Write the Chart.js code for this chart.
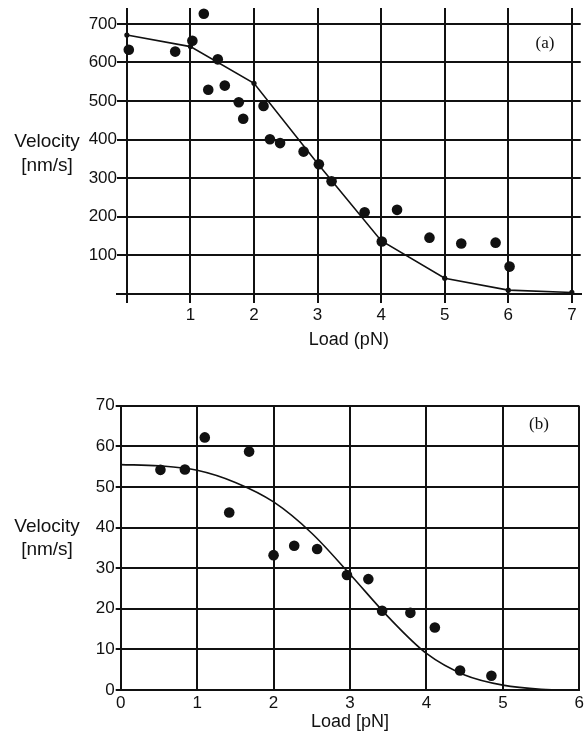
<!DOCTYPE html>
<html>
<head>
<meta charset="utf-8">
<script src="https://cdn.jsdelivr.net/npm/chart.js@4.4.1/dist/chart.umd.min.js"></script>
<style>
  html, body { margin: 0; padding: 0; background: #fff; }
  body { width: 586px; height: 742px; position: relative; overflow: hidden; }
  .wrap { position: absolute; left: 0; }
  canvas { display: block; }
</style>
</head>
<body>
<div class="wrap" style="top:0px"><canvas id="chartA" width="586" height="352"></canvas></div>
<div class="wrap" style="top:352px"><canvas id="chartB" width="586" height="390"></canvas></div>
<script>
// ---------- Panel (a) data ----------
const aPointsX = [0.03, 0.76, 1.03, 1.21, 1.28, 1.43, 1.54, 1.76, 1.83, 2.15, 2.25, 2.41, 2.78, 3.02, 3.22, 3.74, 4.01, 4.25, 4.76, 5.26, 5.80, 6.02];
const aPointsY = [633, 628, 656, 726, 529, 608, 540, 497, 454, 487, 401, 391, 369, 336, 292, 212, 136, 218, 146, 131, 133, 71];
const aFitX = [0, 1, 2, 3, 4, 5, 6, 7];
const aFitY = [671, 641, 546, 338, 138, 41, 10, 4];
const aXTicks = [0, 1, 2, 3, 4, 5, 6, 7];
const aXTickLabels = ['', '1', '2', '3', '4', '5', '6', '7'];
const aYTicks = [0, 100, 200, 300, 400, 500, 600, 700];
const aYTickLabels = ['', '100', '200', '300', '400', '500', '600', '700'];

// ---------- Panel (b) data ----------
const bPointsX = [0.52, 0.84, 1.10, 1.42, 1.68, 2.00, 2.27, 2.57, 2.96, 3.24, 3.42, 3.79, 4.11, 4.44, 4.85];
const bPointsY = [54.2, 54.3, 62.2, 43.7, 58.7, 33.2, 35.5, 34.7, 28.3, 27.3, 19.5, 19.0, 15.4, 4.8, 3.5];
const bFitX = [0, 0.5, 1, 1.5, 2, 2.5, 3, 3.5, 4, 4.5, 5, 5.5, 6];
const bFitY = [55.5, 55.2, 54.1, 51.1, 46.3, 38.6, 28.5, 18.0, 9.0, 3.7, 1.2, 0.2, 0];
const bXTicks = [0, 1, 2, 3, 4, 5, 6];
const bXTickLabels = ['0', '1', '2', '3', '4', '5', '6'];
const bYTicks = [0, 10, 20, 30, 40, 50, 60, 70];
const bYTickLabels = ['0', '10', '20', '30', '40', '50', '60', '70'];

const INK = '#111111';
const SANS = '"Liberation Sans", Arial, Helvetica, sans-serif';
const SERIF = '"Liberation Serif", "Times New Roman", serif';

function zip(xs, ys) { return xs.map((x, i) => ({ x: x, y: ys[i] })); }

const extraText = {
  id: 'extraText',
  afterDraw(chart, args, opts) {
    const ctx = chart.ctx;
    (opts.items || []).forEach(it => {
      ctx.save();
      ctx.font = it.font;
      ctx.fillStyle = INK;
      ctx.textAlign = 'center';
      ctx.textBaseline = 'middle';
      ctx.fillText(it.text, it.x, it.y);
      ctx.restore();
    });
  }
};

function fixSize(w, h) {
  return function (scale) {
    if (w !== null) scale.width = w;
    if (h !== null) scale.height = h;
    scale.paddingLeft = 0; scale.paddingRight = 0;
    scale.paddingTop = 0; scale.paddingBottom = 0;
  };
}
function setTicks(arr) {
  return function (scale) { scale.ticks = arr.map(v => ({ value: v })); };
}

// ---------- Chart (a) ----------
new Chart(document.getElementById('chartA'), {
  type: 'scatter',
  data: {
    datasets: [
      {
        data: zip(aFitX, aFitY),
        showLine: true,
        borderColor: INK,
        borderWidth: 1.6,
        tension: 0,
        pointRadius: 2.6,
        pointBackgroundColor: INK,
        pointBorderWidth: 0,
        order: 2
      },
      {
        data: zip(aPointsX, aPointsY),
        showLine: false,
        pointRadius: 5.3,
        pointBackgroundColor: INK,
        pointBorderWidth: 0,
        order: 1
      }
    ]
  },
  options: {
    responsive: false,
    devicePixelRatio: 1,
    animation: false,
    events: [],
    layout: { padding: { top: 8, left: 0, right: 0, bottom: 0 } },
    plugins: {
      legend: { display: false },
      tooltip: { enabled: false },
      extraText: {
        items: [
          { text: 'Velocity', x: 47, y: 142, font: '19px ' + SANS },
          { text: '[nm/s]', x: 47, y: 166, font: '19px ' + SANS },
          { text: '(a)', x: 545, y: 44, font: '17px ' + SERIF }
        ]
      }
    },
    scales: {
      x: {
        type: 'linear',
        min: -0.1555,
        max: 7.139,
        afterBuildTicks: setTicks(aXTicks),
        afterFit: fixSize(null, 58),
        ticks: {
          autoSkip: false,
          maxRotation: 0,
          padding: 2,
          color: INK,
          font: { family: SANS, size: 17 },
          callback: (v, i) => aXTickLabels[i]
        },
        grid: { color: INK, lineWidth: 2, drawTicks: true, tickLength: 9, tickColor: INK, tickWidth: 2 },
        border: { display: true, color: INK, width: 2 },
        title: {
          display: true,
          text: 'Load (pN)',
          color: INK,
          font: { family: SANS, size: 18 },
          padding: { top: 0, bottom: 1 }
        }
      },
      y: {
        type: 'linear',
        min: 0,
        max: 741,
        afterBuildTicks: setTicks(aYTicks),
        afterFit: fixSize(117, null),
        ticks: {
          autoSkip: false,
          padding: 0,
          color: INK,
          font: { family: SANS, size: 17 },
          callback: (v, i) => aYTickLabels[i]
        },
        grid: { color: INK, lineWidth: 2, drawTicks: false },
        border: { display: false }
      }
    }
  },
  plugins: [extraText]
});

// ---------- Chart (b) ----------
new Chart(document.getElementById('chartB'), {
  type: 'scatter',
  data: {
    datasets: [
      {
        data: zip(bFitX, bFitY),
        showLine: true,
        borderColor: INK,
        borderWidth: 1.6,
        cubicInterpolationMode: 'monotone',
        pointRadius: 0,
        order: 2
      },
      {
        data: zip(bPointsX, bPointsY),
        showLine: false,
        pointRadius: 5.3,
        pointBackgroundColor: INK,
        pointBorderWidth: 0,
        order: 1
      }
    ]
  },
  options: {
    responsive: false,
    devicePixelRatio: 1,
    animation: false,
    events: [],
    layout: { padding: { top: 53.7, left: 0, right: 6.7, bottom: 0 } },
    plugins: {
      legend: { display: false },
      tooltip: { enabled: false },
      extraText: {
        items: [
          { text: 'Velocity', x: 47, y: 527 - 352, font: '19px ' + SANS },
          { text: '[nm/s]', x: 47, y: 550 - 352, font: '19px ' + SANS },
          { text: '(b)', x: 539, y: 425 - 352, font: '17px ' + SERIF }
        ]
      }
    },
    scales: {
      x: {
        type: 'linear',
        min: 0,
        max: 6,
        afterBuildTicks: setTicks(bXTicks),
        afterFit: fixSize(null, 52),
        ticks: {
          autoSkip: false,
          maxRotation: 0,
          padding: 3,
          color: INK,
          font: { family: SANS, size: 17 },
          callback: (v, i) => bXTickLabels[i]
        },
        grid: { color: INK, lineWidth: 2, drawTicks: false },
        border: { display: true, color: INK, width: 2 },
        title: {
          display: true,
          text: 'Load [pN]',
          color: INK,
          font: { family: SANS, size: 18 },
          padding: { top: 0, bottom: 9 }
        }
      },
      y: {
        type: 'linear',
        min: 0,
        max: 70,
        afterBuildTicks: setTicks(bYTicks),
        afterFit: fixSize(120.7, null),
        ticks: {
          autoSkip: false,
          padding: 1,
          color: INK,
          font: { family: SANS, size: 17 },
          callback: (v, i) => bYTickLabels[i]
        },
        grid: { color: INK, lineWidth: 2, drawTicks: true, tickLength: 5, tickColor: INK, tickWidth: 2 },
        border: { display: true, color: INK, width: 2 }
      }
    }
  },
  plugins: [extraText]
});
</script>
</body>
</html>
